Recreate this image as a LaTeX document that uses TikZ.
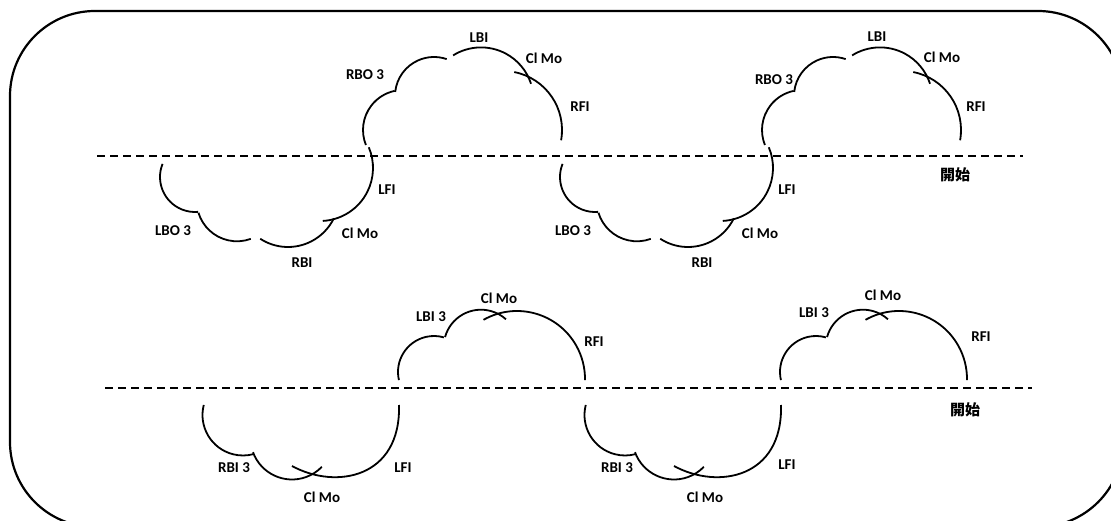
\documentclass[tikz,border=0pt]{standalone}
\usepackage{fontspec}
\setmainfont{Carlito}
\newfontfamily\cjk{Noto Sans CJK JP}
\newcommand\carc[5]{\draw[cl] (#1,-#2) ++(#3:#5) arc[start angle=#3,end angle=#4,radius=#5];}
% top row, cloud above the line
\newcommand\cloudTU[1]{\begin{scope}[xshift=#1]
\carc{403}{130}{202}{102}{40}
\carc{434}{96}{174}{71}{39}
\carc{481}{100}{122}{18}{52.6}
\carc{503}{130}{79}{-10}{59}
\end{scope}}
% top row, cloud below the line
\newcommand\cloudTL[1]{\begin{scope}[xshift=#1]
\carc{195}{177}{158}{275}{35}
\carc{237}{201}{197}{290}{40.3}
\carc{288}{196}{237}{334}{51}
\carc{320}{168}{273}{383}{53}
\end{scope}}
% bottom row, cloud above the line
\newcommand\cloudBU[1]{\begin{scope}[xshift=#1]
\carc{434}{372}{193}{74}{36}
\carc{481}{347}{164.5}{48}{37.3}
\carc{517}{379}{119.5}{-1}{68}
\end{scope}}
% bottom row, cloud below the line
\newcommand\cloudBL[1]{\begin{scope}[xshift=#1]
\carc{243}{415}{165.6}{285}{40.5}
\carc{292}{438}{200}{316}{41.5}
\draw[cl] (292,-466) .. controls (336,-490) and (401,-478) .. (399,-405);
\end{scope}}
\begin{document}
\begin{tikzpicture}[x=1pt,y=1pt,
  cl/.style={line width=1.8pt},
  dl/.style={line width=2pt, dash pattern=on 8pt off 5pt},
  lab/.style={font=\bfseries\fontsize{15}{18}\selectfont, inner sep=0pt},
  cjklab/.style={font=\cjk\bfseries\fontsize{15}{18}\selectfont, inner sep=0pt}]
\useasboundingbox (0,0) rectangle (1111,-521);
\fill[white] (0,0) rectangle (1111,-521);
\begin{scope}
\clip (0,0) rectangle (1111,-521);
\draw[line width=2.2pt, rounded corners=85pt] (10,-11) rectangle (1123,-527);
\end{scope}
% dashed lines
\coordinate (d1a) at (97,-156); \coordinate (d1b) at (1023,-156);
\coordinate (d2a) at (105,-388); \coordinate (d2b) at (1032,-388);
\draw[dl] (d1a) -- (d1b);
\draw[dl] (d2a) -- (d2b);
% clouds
\cloudTU{0pt}
\cloudTU{399pt}
\cloudTL{0pt}
\cloudTL{400pt}
\cloudBU{0pt}
\cloudBU{382pt}
\cloudBL{0pt}
\cloudBL{382pt}
% labels top row
\node[lab] (t1a) at (479,-38) {LBI};
\node[lab] (t1b) at (544,-58) {Cl Mo};
\node[lab] (t1c) at (365,-75) {RBO 3};
\node[lab] (t1d) at (580,-107) {RFI};
\node[lab] (t2a) at (877,-37) {LBI};
\node[lab] (t2b) at (942,-57) {Cl Mo};
\node[lab] (t2c) at (774,-80) {RBO 3};
\node[lab] (t2d) at (976,-107) {RFI};
\node[lab] (t3a) at (387,-190) {LFI};
\node[lab] (t3b) at (173,-231) {LBO 3};
\node[lab] (t3c) at (360,-233) {Cl Mo};
\node[lab] (t3d) at (302,-263) {RBI};
\node[lab] (t4a) at (787,-190) {LFI};
\node[lab] (t4b) at (573,-231) {LBO 3};
\node[lab] (t4c) at (760,-233) {Cl Mo};
\node[lab] (t4d) at (702,-263) {RBI};
\node[cjklab] (s1) at (955,-175) {開始};
% labels bottom row
\node[lab] (b1a) at (431,-317) {LBI 3};
\node[lab] (b1b) at (499,-298) {Cl Mo};
\node[lab] (b1c) at (594,-342) {RFI};
\node[lab] (b2a) at (814,-313) {LBI 3};
\node[lab] (b2b) at (883,-295) {Cl Mo};
\node[lab] (b2c) at (981,-337) {RFI};
\node[lab] (b3a) at (234,-468) {RBI 3};
\node[lab] (b3b) at (322,-497) {Cl Mo};
\node[lab] (b3c) at (403,-468) {LFI};
\node[lab] (b4a) at (617,-468) {RBI 3};
\node[lab] (b4b) at (705,-497) {Cl Mo};
\node[lab] (b4c) at (787,-465) {LFI};
\node[cjklab] (s2) at (965,-410) {開始};
\end{tikzpicture}
\end{document}
